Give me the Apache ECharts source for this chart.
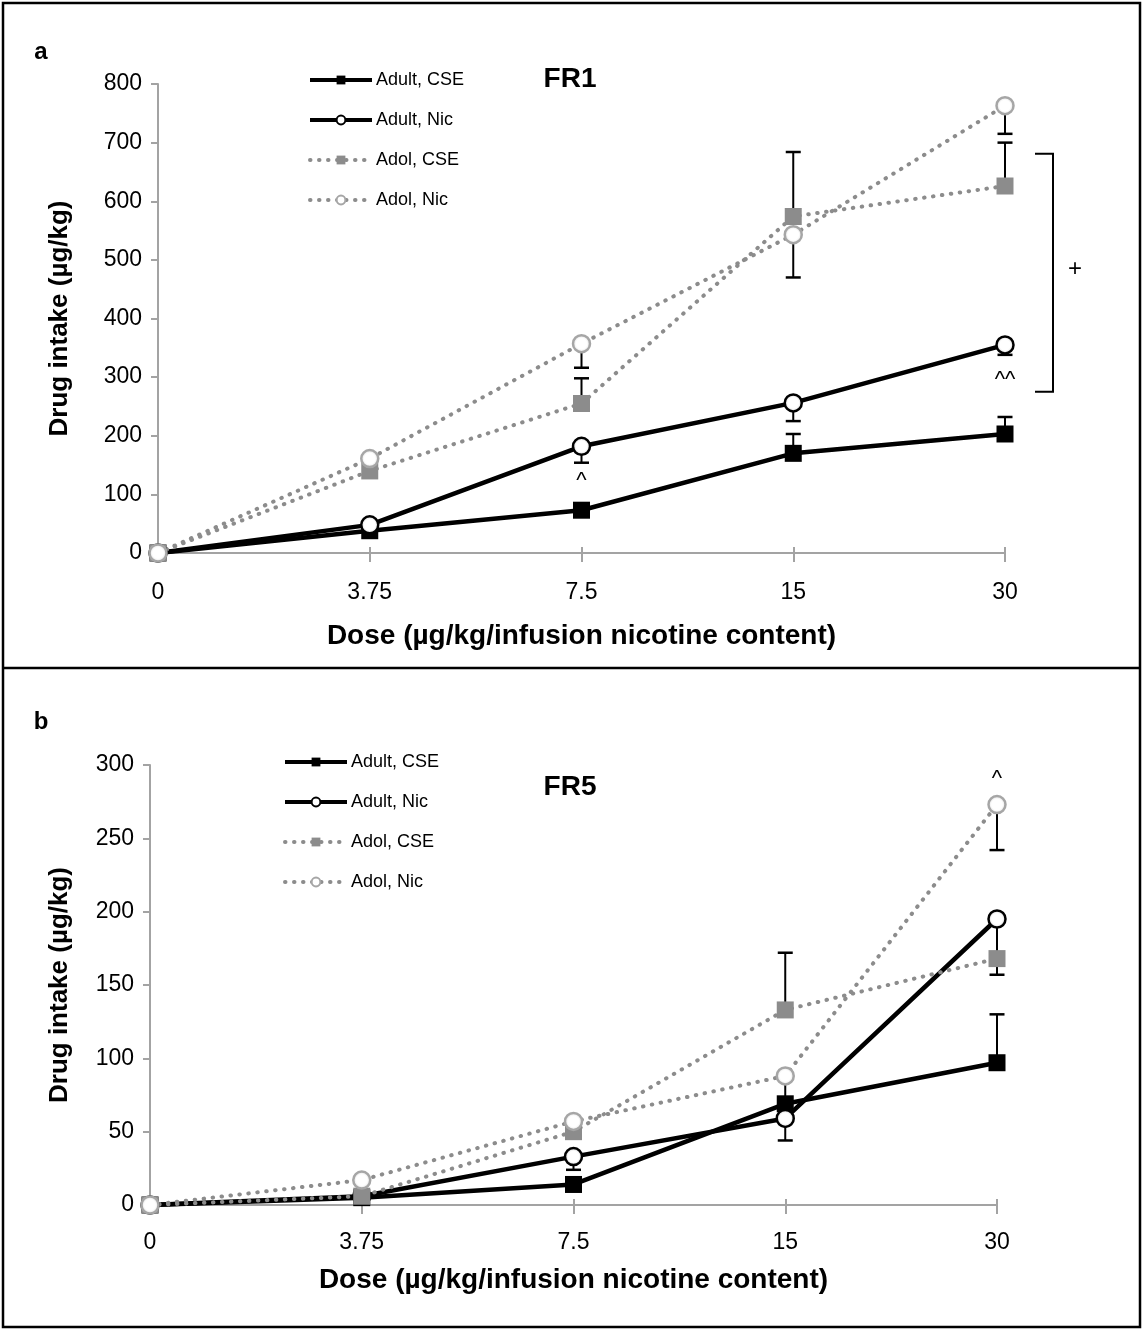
<!DOCTYPE html>
<html><head><meta charset="utf-8">
<script src="https://cdn.jsdelivr.net/npm/echarts@6/dist/echarts.min.js"></script>
<style>html,body{margin:0;padding:0;background:#fff}#c{width:1143px;height:1332px}</style>
</head><body><div id="c"></div>
<script>
// ---------- data ----------
const doses = ['0', '3.75', '7.5', '15', '30'];
const seriesNames = ['Adult, CSE', 'Adult, Nic', 'Adol, CSE', 'Adol, Nic'];
const yTicksA = [0, 100, 200, 300, 400, 500, 600, 700, 800];
const yTicksB = [0, 50, 100, 150, 200, 250, 300];

// Panel a (FR1)
const fr1AdultCSE = [0, 38, 73, 170, 203];
const fr1AdultNic = [0, 48, 182, 256, 355];
const fr1AdolCSE  = [0, 140, 255, 574, 626];
const fr1AdolNic  = [0, 161, 357, 543, 763];
// error bar end values (null = none drawn)
const fr1AdultCSEErr = [null, null, null, 203, 232];
const fr1AdultNicErr = [null, null, 154, 225, 338];
const fr1AdolCSEErr  = [null, null, 298, 684, 700];
const fr1AdolNicErr  = [null, null, 316, 470, 715];

// Panel b (FR5)
const fr5AdultCSE = [0, 5, 14, 69, 97];
const fr5AdultNic = [0, 6, 33, 59, 195];
const fr5AdolCSE  = [0, 6, 50, 133, 168];
const fr5AdolNic  = [0, 17, 57, 88, 273];
const fr5AdultCSEErr = [null, null, null, null, 130];
const fr5AdultNicErr = [null, null, 24, 44, 157];
const fr5AdolCSEErr  = [null, null, null, 172, null];
const fr5AdolNicErr  = [null, null, null, 72, 242];

// ---------- styles ----------
const FONT = '"Liberation Sans", Arial, sans-serif';
const AXIS_GRAY = '#a3a3a3';
const circleFill = (edge) => ({
  type: 'radial', x: 0.5, y: 0.5, r: 0.5,
  colorStops: [{offset: 0, color: '#ffffff'}, {offset: 0.55, color: '#ffffff'}, {offset: 1, color: edge}]
});
const styles = {
  'Adult, CSE': {symbol: 'rect', item: {color: '#000'},
                 line: {color: '#000', width: 4.5, type: 'solid'}},
  'Adult, Nic': {symbol: 'circle', item: {color: circleFill('#c8c8c8'), borderColor: '#000', borderWidth: 2.5},
                 line: {color: '#000', width: 4.5, type: 'solid'}},
  'Adol, CSE':  {symbol: 'rect', item: {color: '#8c8c8c'},
                 line: {color: '#8c8c8c', width: 4, type: [0.5, 8.5], cap: 'round'}},
  'Adol, Nic':  {symbol: 'circle', item: {color: circleFill('#d6d6d6'), borderColor: '#a6a6a6', borderWidth: 2.5},
                 line: {color: '#8c8c8c', width: 4, type: [0.5, 8.5], cap: 'round'}}
};

function lineSeries(name, data, g) {
  const s = styles[name];
  return {
    type: 'line', name: name, data: data, xAxisIndex: g * 2, yAxisIndex: g,
    symbol: s.symbol, symbolSize: 17, showAllSymbol: true,
    itemStyle: s.item, lineStyle: s.line, z: 3,
    emphasis: {disabled: true}, silent: true, animation: false
  };
}
function errSeries(vals, ends, g) {
  const data = [];
  ends.forEach((e, i) => { if (e != null) data.push([i, vals[i], e]); });
  return {
    type: 'custom', name: 'err', xAxisIndex: g * 2, yAxisIndex: g, z: 2, silent: true, animation: false,
    encode: {x: 0, y: [1, 2]},
    data: data,
    renderItem: (params, api) => {
      const x = api.value(0), v = api.value(1), e = api.value(2);
      const p0 = api.coord([x, v]), p1 = api.coord([x, e]);
      const hw = 7.5;
      return {type: 'group', children: [
        {type: 'line', shape: {x1: p0[0], y1: p0[1], x2: p1[0], y2: p1[1]}, style: {stroke: '#000', lineWidth: 2}},
        {type: 'line', shape: {x1: p1[0] - hw, y1: p1[1], x2: p1[0] + hw, y2: p1[1]}, style: {stroke: '#000', lineWidth: 2.5}}
      ]};
    }
  };
}

const grids = [
  {left: 158, top: 84, width: 847, height: 469, containLabel: false, outerBoundsMode: 'none'},
  {left: 150, top: 765, width: 847, height: 440, containLabel: false, outerBoundsMode: 'none'}
];
const xTitle = 'Dose (µg/kg/infusion nicotine content)';
const yTitle = 'Drug intake (µg/kg)';
function xAxes(g, nameGap, labelMargin) {
  return [
    {type: 'category', gridIndex: g, data: doses, boundaryGap: false,
     axisLine: {lineStyle: {color: AXIS_GRAY, width: 2}},
     axisTick: {show: true, length: 9, inside: false, lineStyle: {color: AXIS_GRAY, width: 2}},
     axisLabel: {color: '#000', fontSize: 23, fontFamily: FONT, margin: labelMargin},
     splitLine: {show: false},
     name: xTitle, nameLocation: 'middle', nameGap: nameGap,
     nameTextStyle: {color: '#000', fontSize: 28, fontWeight: 'bold', fontFamily: FONT}},
    {type: 'category', gridIndex: g, data: doses, boundaryGap: false, position: 'bottom',
     axisLine: {show: false}, axisLabel: {show: false}, splitLine: {show: false},
     axisTick: {show: true, length: 6, inside: true, lineStyle: {color: AXIS_GRAY, width: 2}}}
  ];
}
function yAxis(g, ticks, nameGap) {
  return {type: 'value', gridIndex: g, min: ticks[0], max: ticks[ticks.length - 1],
    interval: ticks[1] - ticks[0],
    axisLine: {show: true, lineStyle: {color: AXIS_GRAY, width: 2}},
    axisTick: {show: true, length: 7, lineStyle: {color: AXIS_GRAY, width: 2}},
    axisLabel: {color: '#000', fontSize: 23, fontFamily: FONT, margin: 16},
    splitLine: {show: false},
    name: yTitle, nameLocation: 'middle', nameGap: nameGap, nameRotate: 90,
    nameTextStyle: {color: '#000', fontSize: 26, fontWeight: 'bold', fontFamily: FONT}};
}
function legend(left, top) {
  return {orient: 'vertical', left: left, top: top, data: seriesNames, selectedMode: false,
    itemWidth: 62, itemHeight: 11, itemGap: 22,
    lineStyle: {width: 4},
    textStyle: {color: '#000', fontSize: 18, fontFamily: FONT, lineHeight: 18, padding: [0, 0, 0, -1]}};
}

const series = [
  errSeries(fr1AdultCSE, fr1AdultCSEErr, 0),
  errSeries(fr1AdultNic, fr1AdultNicErr, 0),
  errSeries(fr1AdolCSE, fr1AdolCSEErr, 0),
  errSeries(fr1AdolNic, fr1AdolNicErr, 0),
  lineSeries('Adult, CSE', fr1AdultCSE, 0),
  lineSeries('Adult, Nic', fr1AdultNic, 0),
  lineSeries('Adol, CSE', fr1AdolCSE, 0),
  lineSeries('Adol, Nic', fr1AdolNic, 0),
  errSeries(fr5AdultCSE, fr5AdultCSEErr, 1),
  errSeries(fr5AdultNic, fr5AdultNicErr, 1),
  errSeries(fr5AdolCSE, fr5AdolCSEErr, 1),
  errSeries(fr5AdolNic, fr5AdolNicErr, 1),
  lineSeries('Adult, CSE', fr5AdultCSE, 1),
  lineSeries('Adult, Nic', fr5AdultNic, 1),
  lineSeries('Adol, CSE', fr5AdolCSE, 1),
  lineSeries('Adol, Nic', fr5AdolNic, 1)
];

const chart = echarts.init(document.getElementById('c'), null, {renderer: 'canvas'});
chart.setOption({
  animation: false,
  backgroundColor: '#fff',
  grid: grids,
  xAxis: [...xAxes(0, 69, 28), ...xAxes(1, 61, 26)],
  yAxis: [yAxis(0, yTicksA, 85), yAxis(1, yTicksB, 77)],
  legend: [legend(303, 66), legend(278, 748)],
  series: series
});

// ---------- annotations (anchored to data coordinates) ----------
const px = (g, x, y) => chart.convertToPixel({gridIndex: g}, [x, y]);
const txt = (p, s, size, bold, dy) => ({type: 'text', x: p[0], y: p[1] + (dy || 0), silent: true,
  style: {text: s, fill: '#000', font: (bold ? 'bold ' : '') + size + 'px ' + FONT, textAlign: 'center', textVerticalAlign: 'middle'}});
const a1 = px(0, 2, 130), a2 = px(0, 4, 302), b1 = px(1, 4, 293);
const bt = px(0, 4, 681), bb = px(0, 4, 275), plus = px(0, 4, 483);
const graphics = [
  {type: 'rect', shape: {x: 3, y: 3, width: 1137, height: 1324}, style: {fill: 'none', stroke: '#000', lineWidth: 2.5}, silent: true},
  {type: 'line', shape: {x1: 3, y1: 668, x2: 1140, y2: 668}, style: {stroke: '#000', lineWidth: 2.5}, silent: true},
  {type: 'text', x: 41, y: 52, silent: true, style: {text: 'a', fill: '#000', font: 'bold 24px ' + FONT, textAlign: 'center', textVerticalAlign: 'middle'}},
  {type: 'text', x: 41, y: 722, silent: true, style: {text: 'b', fill: '#000', font: 'bold 24px ' + FONT, textAlign: 'center', textVerticalAlign: 'middle'}},
  {type: 'text', x: 570, y: 79, silent: true, style: {text: 'FR1', fill: '#000', font: 'bold 28px ' + FONT, textAlign: 'center', textVerticalAlign: 'middle'}},
  {type: 'text', x: 570, y: 787, silent: true, style: {text: 'FR5', fill: '#000', font: 'bold 28px ' + FONT, textAlign: 'center', textVerticalAlign: 'middle'}},
  txt(a1, '^', 22, false, 4),
  txt(a2, '^^', 22, false, 4),
  txt(b1, '^', 22, false, 4),
  {type: 'polyline', silent: true, shape: {points: [[bt[0] + 30, bt[1]], [bt[0] + 48, bt[1]], [bb[0] + 48, bb[1]], [bb[0] + 30, bb[1]]]},
   style: {stroke: '#000', lineWidth: 2, fill: 'none'}},
  txt([plus[0] + 70, plus[1]], '+', 24, false, 0)
];
chart.setOption({graphic: graphics});
</script>
</body></html>
